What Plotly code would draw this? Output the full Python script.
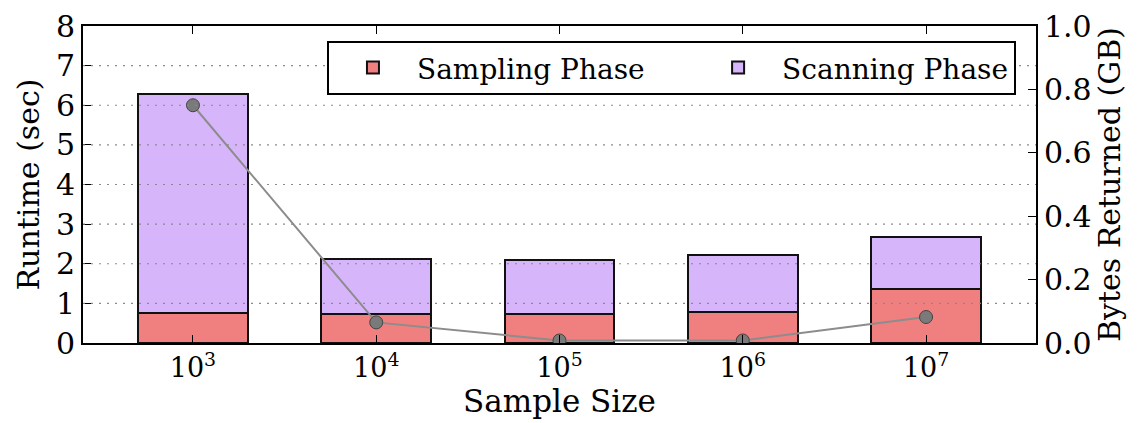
import plotly.graph_objects as go

categories = ["10<sup>3</sup>", "10<sup>4</sup>", "10<sup>5</sup>", "10<sup>6</sup>", "10<sup>7</sup>"]
sampling = [0.76, 0.74, 0.73, 0.78, 1.36]
scanning = [5.53, 1.38, 1.36, 1.43, 1.32]
bytes_returned = [0.75, 0.065, 0.008, 0.008, 0.082]
series_names = ["Sampling Phase", "Scanning Phase"]
runtime_ticks = [0, 1, 2, 3, 4, 5, 6, 7, 8]

FONT = "'DejaVu Serif', 'Liberation Serif', serif"
PAD = "\u00a0" * 5
fig = go.Figure()
fig.add_trace(go.Bar(x=categories, y=sampling, name=series_names[0] + PAD, width=0.6,
                     marker=dict(color="#F08080", line=dict(color="#111111", width=2))))
fig.add_trace(go.Bar(x=categories, y=scanning, name=series_names[1], width=0.6,
                     marker=dict(color="#D7B5FB", line=dict(color="#111111", width=2))))

# dotted grid drawn above the bars, as in the reference
for v in runtime_ticks[1:-1]:
    fig.add_hline(y=v, line=dict(color="#8a8a8a", width=1.2, dash="2px,6px"), layer="above")

fig.add_trace(go.Scatter(x=categories, y=bytes_returned, yaxis="y2", mode="lines+markers",
                         showlegend=False,
                         line=dict(color="#8c8c8c", width=2),
                         marker=dict(color="#7a7a7a", size=13, line=dict(color="#444444", width=1))))

fig.update_layout(
    width=1139, height=423,
    margin=dict(l=83, r=103, t=26, b=80),
    paper_bgcolor="white", plot_bgcolor="white",
    barmode="stack",
    font=dict(family=FONT, size=28, color="black"),
    xaxis=dict(range=[-0.6, 4.6], showline=True, linecolor="black", linewidth=2,
               mirror="ticks", ticks="inside", ticklen=8, tickwidth=1, tickcolor="black",
               title=dict(text="Sample Size", font=dict(size=31), standoff=4),
               tickfont=dict(size=27), automargin=False),
    yaxis=dict(range=[0, 8], tickvals=runtime_ticks, showline=True, linecolor="black", linewidth=2,
               ticks="inside", ticklen=8, tickcolor="black",
               showgrid=False, zeroline=False, automargin=False,
               tickfont=dict(size=30)),
    yaxis2=dict(range=[0, 1], dtick=0.2, overlaying="y", side="right", tickformat=".1f",
                showline=True, linecolor="black", linewidth=2,
                ticks="inside", ticklen=8, tickcolor="black",
                showgrid=False, zeroline=False, automargin=False,
                title=dict(text="Bytes Returned (GB)", font=dict(size=30), standoff=8),
                tickfont=dict(size=30)),
    legend=dict(orientation="h", x=0.256, y=0.953, xanchor="left", yanchor="top",
                bordercolor="black", borderwidth=2, bgcolor="white",
                font=dict(size=28), itemwidth=78, traceorder="normal"),
    annotations=[dict(text="Runtime (sec)", textangle=-90, xref="paper", yref="paper",
                      x=-0.0567, y=0.5, xanchor="center", yanchor="middle",
                      showarrow=False, font=dict(size=30))],
)

fig.write_html("out.html")
